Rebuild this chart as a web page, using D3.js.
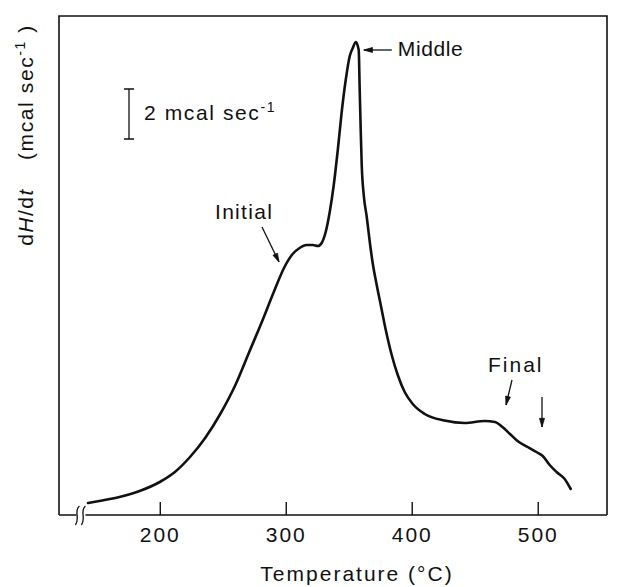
<!DOCTYPE html>
<html>
<head>
<meta charset="utf-8">
<script src="https://cdn.jsdelivr.net/npm/d3@7"></script>
<style>
  html, body { margin: 0; padding: 0; background: #fff; }
  svg { display: block; }
</style>
</head>
<body>
<script>
// DSC trace: heat flow dH/dt (mcal/sec) versus temperature (°C)
const tempC = [143, 152, 168, 184, 200, 212, 224, 236, 248, 260, 271, 281, 290.5, 299, 305.5, 311, 316.5, 321.5, 325.5, 328.5,
  331.7, 334.9, 338.1, 341.3, 344.4, 347.6, 350.8, 353.2, 355.6, 357.9, 358.7, 359.5, 360.3, 361.9, 364.3, 366.7, 369,
  372.2, 375.4, 379.4, 384.1, 388.9, 394.4, 400.8, 410.3, 426, 442, 458, 466, 472, 478, 484, 492, 499, 504, 509.5, 515, 521.4, 526.2];
const dHdt = [0.48, 0.56, 0.72, 0.96, 1.32, 1.72, 2.32, 3.08, 4.04, 5.2, 6.52, 7.72, 8.92, 9.92, 10.44, 10.68, 10.8, 10.8, 10.76, 10.88,
  11.32, 12.12, 13.2, 14.6, 16.12, 17.4, 18.36, 18.68, 18.92, 18.6, 17.0, 15.4, 14.0, 12.8, 11.92, 10.92, 10.08,
  9.2, 8.4, 7.4, 6.4, 5.6, 4.92, 4.44, 4.04, 3.78, 3.68, 3.76, 3.72, 3.52, 3.24, 2.96, 2.72, 2.52, 2.36, 2.0, 1.72, 1.44, 1.04];
const tickTemps = [200, 300, 400, 500];
const tickLabels = ["200", "300", "400", "500"];
const scaleBarMcal = 2;

const W = 621, H = 587;
const FONT = "'Liberation Sans', Arial, sans-serif";
const box = { left: 59, top: 16, right: 607, bottom: 515 };

const x = d3.scaleLinear().domain([120, 555]).range([box.left, box.right]);
const y = d3.scaleLinear().domain([0, 20]).range([box.bottom, box.bottom - 500]);

const svg = d3.select("body").append("svg")
  .attr("width", W).attr("height", H)
  .attr("viewBox", `0 0 ${W} ${H}`)
  .style("font-family", FONT);

const ink = "#111";

// Frame: left, top and right sides
svg.append("path")
  .attr("d", `M${box.left},${box.bottom} V${box.top} H${box.right} V${box.bottom}`)
  .attr("fill", "none").attr("stroke", ink).attr("stroke-width", 1.6);

// Temperature axis with inward ticks
const axis = d3.axisBottom(x)
  .tickValues(tickTemps)
  .tickFormat((d, i) => tickLabels[i])
  .tickSizeInner(-13).tickSizeOuter(0).tickPadding(12);
const ax = svg.append("g")
  .attr("transform", `translate(0,${box.bottom})`)
  .call(axis)
  .attr("font-family", FONT).attr("font-size", 21);
ax.select(".domain").remove();
ax.selectAll(".tick line").attr("stroke", ink).attr("stroke-width", 1.4);
ax.selectAll(".tick text").attr("fill", ink).attr("letter-spacing", 2);

// Axis line with a break near the start of the scale
const breakX = x(137);
svg.append("path")
  .attr("d", `M${box.left},${box.bottom} H${breakX - 4} M${breakX + 5},${box.bottom} H${box.right}`)
  .attr("fill", "none").attr("stroke", ink).attr("stroke-width", 1.6);
[-3, 3].forEach(off => {
  const cx = breakX + off;
  svg.append("path")
    .attr("d", `M${cx + 2},${box.bottom - 9} C${cx - 4},${box.bottom - 4} ${cx + 3},${box.bottom + 3} ${cx - 2},${box.bottom + 10}`)
    .attr("fill", "none").attr("stroke", ink).attr("stroke-width", 1.3);
});

// The thermogram
const pts = tempC.map((t, i) => [t, dHdt[i]]);
svg.append("path")
  .datum(pts)
  .attr("d", d3.line().x(d => x(d[0])).y(d => y(d[1])).curve(d3.curveMonotoneX))
  .attr("fill", "none").attr("stroke", ink).attr("stroke-width", 2.6)
  .attr("stroke-linejoin", "round").attr("stroke-linecap", "round");

// Y-axis title
const yt = svg.append("g").attr("fill", ink).attr("font-size", 21);
const t1 = yt.append("text")
  .attr("transform", "translate(33,217) rotate(-90)")
  .attr("text-anchor", "middle").attr("letter-spacing", 1.5);
t1.append("tspan").text("d");
t1.append("tspan").attr("font-style", "italic").text("H");
t1.append("tspan").text("/d");
t1.append("tspan").attr("font-style", "italic").text("t");
const t2 = yt.append("text")
  .attr("transform", "translate(33,92) rotate(-90)")
  .attr("text-anchor", "middle").attr("letter-spacing", 1.6);
t2.append("tspan").text("(mcal sec");
t2.append("tspan").attr("dy", -8).attr("font-size", 14).text("-1");
t2.append("tspan").attr("dy", 8).text(" )");

// Scale bar: 2 mcal/sec
const barX = 129, barBottom = 139;
const barTop = barBottom - (y(0) - y(scaleBarMcal));
svg.append("path")
  .attr("d", `M${barX - 5},${barTop} H${barX + 5} M${barX},${barTop} V${barBottom} M${barX - 5},${barBottom} H${barX + 5}`)
  .attr("fill", "none").attr("stroke", ink).attr("stroke-width", 1.3);
const st = svg.append("text").attr("x", 144).attr("y", 120)
  .attr("fill", ink).attr("font-size", 21).attr("letter-spacing", 1.6);
st.append("tspan").text("2 mcal sec");
st.append("tspan").attr("dy", -8).attr("font-size", 14).text("-1");

// Annotations
function arrow(x1, y1, x2, y2) {
  svg.append("line").attr("x1", x1).attr("y1", y1).attr("x2", x2).attr("y2", y2)
    .attr("stroke", ink).attr("stroke-width", 1.3);
  const a = Math.atan2(y2 - y1, x2 - x1), L = 9, s = 0.28;
  const p1 = [x2 - L * Math.cos(a - s), y2 - L * Math.sin(a - s)];
  const p2 = [x2 - L * Math.cos(a + s), y2 - L * Math.sin(a + s)];
  svg.append("path").attr("d", `M${x2},${y2} L${p1[0]},${p1[1]} L${p2[0]},${p2[1]} Z`)
    .attr("fill", ink).attr("stroke", ink).attr("stroke-width", 0.8);
}

const peakX = x(355.6), peakY = y(18.92);
arrow(peakX + 36, peakY + 8, peakX + 8, peakY + 8);
svg.append("text").attr("x", peakX + 42).attr("y", peakY + 14)
  .attr("fill", ink).attr("font-size", 21).attr("letter-spacing", 0.6).text("Middle");

svg.append("text").attr("x", 215).attr("y", 219)
  .attr("fill", ink).attr("font-size", 21).attr("letter-spacing", 1.3).text("Initial");
arrow(262, 227, 279, 262);

svg.append("text").attr("x", 488).attr("y", 372)
  .attr("fill", ink).attr("font-size", 21).attr("letter-spacing", 2).text("Final");
arrow(512, 380, 506, 405);
arrow(542, 397, 542, 427);

// X-axis title
svg.append("text").attr("x", 357).attr("y", 581)
  .attr("text-anchor", "middle").attr("fill", ink)
  .attr("font-size", 21).attr("letter-spacing", 2)
  .text("Temperature  (°C)");
</script>
</body>
</html>
